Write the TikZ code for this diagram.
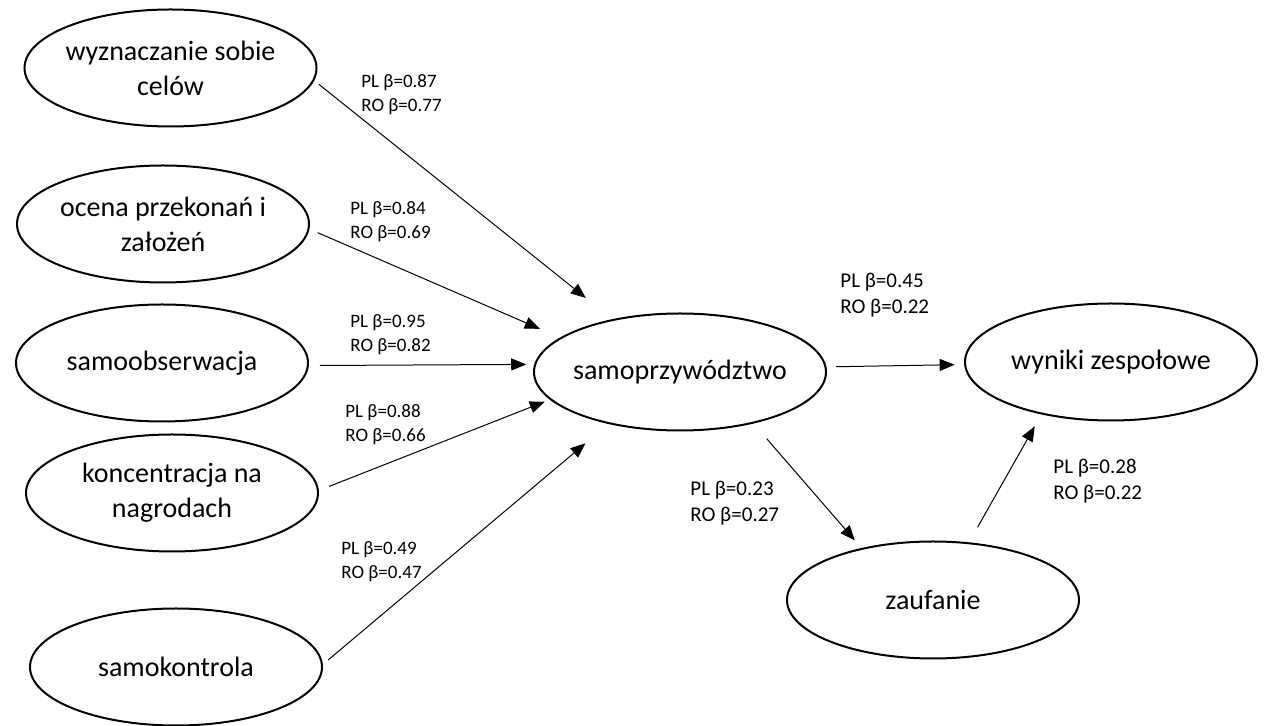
\documentclass[tikz,border=0pt]{standalone}
\usepackage{fontspec}
\setmainfont{Carlito}
\usetikzlibrary{arrows.meta, shapes.geometric}

\begin{document}
\begin{tikzpicture}[x=0.5pt, y=-0.5pt,
    construct/.style={draw, ellipse, line width=1pt, minimum width=146pt, minimum height=58.5pt,
        inner xsep=-3pt, inner ysep=0pt, align=center, font=\fontsize{14}{17.5}\selectfont},
    effect/.style={-{Triangle[length=7.5pt, width=6pt]}, line width=0.5pt},
    beta/.style={anchor=west, align=left, inner sep=0pt, font=\fontsize{9.5}{12}\selectfont},
    betabig/.style={beta, font=\fontsize{10.5}{13}\selectfont}]
    \useasboundingbox (0, 0) rectangle (1271, 726);

    % dimensions of self-leadership
    \node[construct] (goals) at (170.5, 68) {wyznaczanie sobie\\celów};
    \node[construct] (beliefs) at (163, 224) {ocena przekonań i\\założeń};
    \node[construct] (observe) at (162, 363) {samoobserwacja};
    \node[construct] (rewards) at (172, 493) {koncentracja na\\nagrodach};
    \node[construct] (control) at (176, 667) {samokontrola};

    \node[construct] (lead) at (680, 372) {samoprzywództwo};
    \node[construct] (results) at (1111, 362) {wyniki zespołowe};
    \node[construct] (trust) at (933, 600) {zaufanie};

    % paths
    \draw[effect, shorten <=3pt, shorten >=17pt] (goals.-5.8) -- (lead.142.2);
    \draw[effect, shorten <=4.5pt, shorten >=11pt] (beliefs.-2.6) -- (lead.164.5);
    \draw[effect, shorten <=5.5pt, shorten >=4pt] (observe.-1.4) -- (lead.177.8);
    \draw[effect, shorten <=5.5pt, shorten >=2.75pt] (rewards.1.8) -- (lead.192.8);
    \draw[effect, shorten <=3.5pt, shorten >=15pt] (control.1.5) -- (lead.216.3);

    \draw[effect, shorten <=4.75pt, shorten >=4.75pt] (lead.2.2) -- (results.181.5);
    \draw[effect, shorten <=10pt, shorten >=5pt] (lead.-35.9) -- (trust.144.5);
    \draw[effect, shorten <=8.6pt, shorten >=6.8pt] (trust.58.6) -- (results.217.2);

    % coefficients
    \node[beta] (b1) at (361, 95) {PL β=0.87\\RO β=0.77};
    \node[beta] (b2) at (350, 222) {PL β=0.84\\RO β=0.69};
    \node[beta] (b3) at (350, 335) {PL β=0.95\\RO β=0.82};
    \node[beta] (b4) at (345, 425) {PL β=0.88\\RO β=0.66};
    \node[beta] (b5) at (341, 562) {PL β=0.49\\RO β=0.47};

    \node[betabig] (b6) at (840, 295) {PL β=0.45\\RO β=0.22};
    \node[betabig] (b7) at (690, 503) {PL β=0.23\\RO β=0.27};
    \node[betabig] (b8) at (1053, 481) {PL β=0.28\\RO β=0.22};
\end{tikzpicture}
\end{document}
